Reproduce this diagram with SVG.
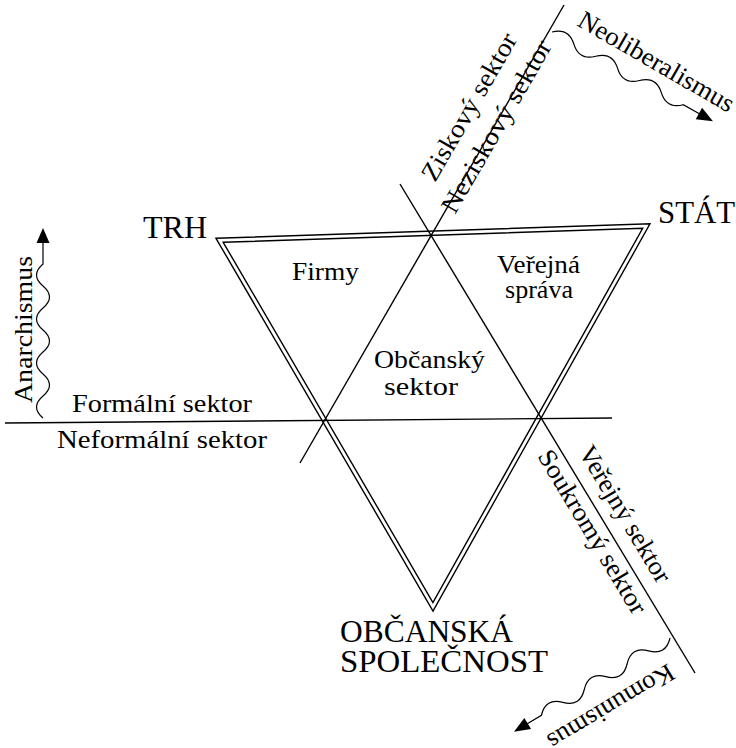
<svg xmlns="http://www.w3.org/2000/svg" width="736" height="748" viewBox="0 0 736 748">
<style>
text{font-family:'Liberation Serif','Times New Roman',serif;fill:#000}
.big{font-size:32px}
.sm{font-size:26px}
.ln{stroke:#000;stroke-width:1.4;fill:none}
.wave{stroke:#000;stroke-width:1.2;fill:none}
.head{fill:#000;stroke:none}
</style>
<rect width="736" height="748" fill="#fff"/>
<g id="connectors">
<polygon class="ln" points="216,238.3 650,223.8 433,611"/>
<polygon class="ln" points="223.2,242.3 642.7,228.3 432.9,602.5"/>
<line class="ln" x1="564" y1="5" x2="300" y2="463"/>
<line class="ln" x1="400" y1="184" x2="695" y2="673"/>
<line class="ln" x1="5" y1="423" x2="612" y2="418"/>
</g>
<g id="arrow-neoliberalismus" transform="translate(552,32) rotate(29)">
<path class="wave" d="M0,0 q12.5,-12 25,0 t25,0 t25,0 t25,0 t25,0 t25,0 L169,0"/>
<polygon class="head" points="184,0 168,-6.5 168,6.5"/>
</g>
<g id="arrow-anarchismus" transform="translate(43,418) rotate(-90)">
<path class="wave" d="M0,0 q11,-13 22,0 t22,0 t22,0 t22,0 t22,0 t22,0 t22,0 L176,0"/>
<polygon class="head" points="190,0 175,-6.5 175,6.5"/>
</g>
<g id="arrow-komunismus" transform="translate(670,638) rotate(149)">
<path class="wave" d="M0,0 q12.5,-13 25,0 t25,0 t25,0 t25,0 t25,0 t25,0 L167,0"/>
<polygon class="head" points="182,0 166,-6.5 166,6.5"/>
</g>
<g id="node-trh"><text class="big" x="143" y="238">TRH</text></g>
<g id="node-stat"><text class="big" x="658" y="223" textLength="77" lengthAdjust="spacingAndGlyphs">STÁT</text></g>
<g id="node-obcanska-spolecnost">
<text class="big" x="340" y="642" textLength="173" lengthAdjust="spacingAndGlyphs">OBČANSKÁ</text>
<text class="big" x="340" y="672" textLength="208" lengthAdjust="spacingAndGlyphs">SPOLEČNOST</text>
</g>
<g id="node-firmy"><text class="sm" x="292" y="280" textLength="67" lengthAdjust="spacingAndGlyphs">Firmy</text></g>
<g id="node-verejna-sprava">
<text class="sm" x="497" y="273" textLength="83" lengthAdjust="spacingAndGlyphs">Veřejná</text>
<text class="sm" x="505" y="298" textLength="68" lengthAdjust="spacingAndGlyphs">správa</text>
</g>
<g id="node-obcansky-sektor">
<text class="sm" x="374" y="368" textLength="111" lengthAdjust="spacingAndGlyphs">Občanský</text>
<text class="sm" x="384" y="395" textLength="74" lengthAdjust="spacingAndGlyphs">sektor</text>
</g>
<g id="labels-sectors">
<text class="sm" x="72" y="412" textLength="180" lengthAdjust="spacingAndGlyphs">Formální sektor</text>
<text class="sm" x="57" y="448" textLength="210" lengthAdjust="spacingAndGlyphs">Neformální sektor</text>
<text class="sm" transform="translate(435,183) rotate(-60)" textLength="166" lengthAdjust="spacingAndGlyphs">Ziskový sektor</text>
<text class="sm" transform="translate(455,215) rotate(-60)" textLength="195" lengthAdjust="spacingAndGlyphs">Neziskový sektor</text>
<text class="sm" transform="translate(578,452) rotate(59)" textLength="155" lengthAdjust="spacingAndGlyphs">Veřejný sektor</text>
<text class="sm" transform="translate(537,456) rotate(59)" textLength="187" lengthAdjust="spacingAndGlyphs">Soukromý sektor</text>
</g>
<g id="labels-ideologies">
<text class="sm" transform="translate(576,25) rotate(30)" textLength="176" lengthAdjust="spacingAndGlyphs">Neoliberalismus</text>
<text class="sm" transform="translate(32,403) rotate(-90)" textLength="147" lengthAdjust="spacingAndGlyphs">Anarchismus</text>
<text class="sm" transform="translate(668,663) rotate(149)" textLength="143" lengthAdjust="spacingAndGlyphs">Komunismus</text>
</g>
</svg>
